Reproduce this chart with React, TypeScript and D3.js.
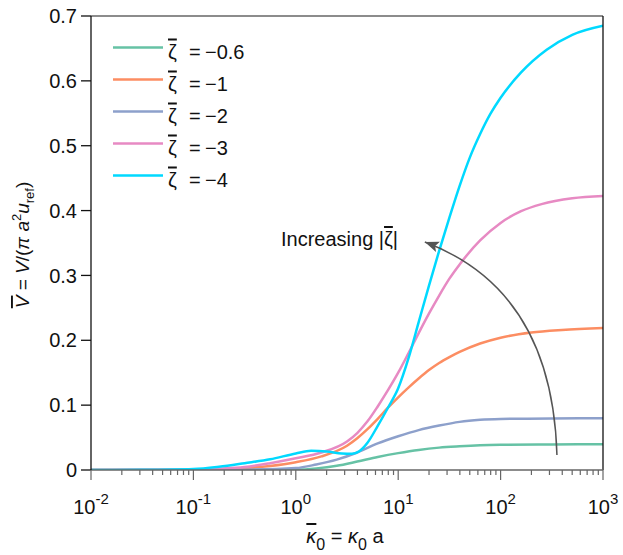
import * as React from "react";
import * as d3 from "d3";

// readings: log10(kappa0 a) and V bar
const zetaLabels = ["\u22120.6", "\u22121", "\u22122", "\u22123", "\u22124"];
const colors = ["#66c2a5", "#fc8d62", "#8da0cb", "#e78ac3", "#00d9ff"];

const expGreen = [-2, -1, -0.5, 0, 0.2, 0.4, 0.6, 0.8, 1.0, 1.2, 1.4, 1.6, 1.8, 2.0, 2.5, 3];
const valGreen = [0, 0, 0.0002, 0.0006, 0.0025, 0.0065, 0.013, 0.02, 0.026, 0.031, 0.0345, 0.0365, 0.038, 0.0388, 0.0395, 0.0396];

const expOrange = [-2, -1, -0.75, -0.5, -0.25, 0, 0.25, 0.5, 0.6, 0.7, 0.8, 0.9, 1.0, 1.1, 1.2, 1.3, 1.4, 1.5, 1.6, 1.8, 2.0, 2.3, 2.6, 3];
const valOrange = [0, 0.0005, 0.0012, 0.0027, 0.0062, 0.012, 0.021, 0.0375, 0.049, 0.063, 0.079, 0.096, 0.112, 0.127, 0.141, 0.154, 0.165, 0.174, 0.182, 0.195, 0.204, 0.212, 0.216, 0.219];

const expBlue = [-2, -1, -0.5, 0, 0.2, 0.4, 0.6, 0.8, 1.0, 1.2, 1.4, 1.6, 1.8, 2.0, 2.5, 3];
const valBlue = [0, 0.0001, 0.0005, 0.003, 0.0085, 0.016, 0.027, 0.041, 0.052, 0.0615, 0.0685, 0.0742, 0.0773, 0.0786, 0.0795, 0.0797];

const expPink = [-2, -1, -0.75, -0.5, -0.25, 0, 0.25, 0.5, 0.6, 0.7, 0.8, 0.9, 1.0, 1.1, 1.2, 1.3, 1.4, 1.5, 1.6, 1.8, 2.0, 2.2, 2.4, 2.7, 3];
const valPink = [0, 0.0008, 0.002, 0.0045, 0.0105, 0.018, 0.027, 0.044, 0.057, 0.075, 0.098, 0.123, 0.15, 0.18, 0.211, 0.241, 0.269, 0.295, 0.317, 0.354, 0.381, 0.399, 0.41, 0.419, 0.4225];

const expCyan = [-2, -1.5, -1, -0.75, -0.5, -0.25, 0, 0.15, 0.3, 0.45, 0.55, 0.62, 0.7, 0.8, 0.9, 1.0, 1.1, 1.2, 1.3, 1.4, 1.5, 1.6, 1.7, 1.8, 1.9, 2.0, 2.2, 2.45, 2.7, 3];
const valCyan = [0, 0.0003, 0.0015, 0.005, 0.0105, 0.0165, 0.0255, 0.0295, 0.0285, 0.0255, 0.025, 0.029, 0.042, 0.068, 0.096, 0.126, 0.172, 0.228, 0.284, 0.338, 0.389, 0.438, 0.482, 0.518, 0.549, 0.574, 0.613, 0.648, 0.671, 0.685];

const seriesExp = [expGreen, expOrange, expBlue, expPink, expCyan];
const seriesVal = [valGreen, valOrange, valBlue, valPink, valCyan];

const yTicks = [0, 0.1, 0.2, 0.3, 0.4, 0.5, 0.6, 0.7];
const xDecades = [-2, -1, 0, 1, 2, 3];

// arrow: start, control, end in data units
const arrowK = [355, 320, 18.2];
const arrowV = [0.023, 0.2775, 0.3515];

export default function App() {
  const W = 623;
  const H = 555;
  const margin = { top: 16, right: 20, bottom: 85, left: 91 };
  const x0 = margin.left;
  const x1 = W - margin.right;
  const y0 = H - margin.bottom;
  const y1 = margin.top;

  const x = d3.scaleLog().domain([0.01, 1000]).range([x0, x1]);
  const y = d3.scaleLinear().domain([0, 0.7]).range([y0, y1]);

  const line = d3
    .line<[number, number]>()
    .x((d) => x(Math.pow(10, d[0])))
    .y((d) => y(d[1]))
    .curve(d3.curveMonotoneX);

  const minor: number[] = [];
  for (let e = -2; e < 3; e++) {
    for (let k = 2; k <= 9; k++) minor.push(k * Math.pow(10, e));
  }

  const font = "'Liberation Sans', Arial, Helvetica, sans-serif";
  const fs = 19;

  // arrow geometry
  const ax = arrowK.map((k) => x(k));
  const ay = arrowV.map((v) => y(v));
  const arrowPath = d3.path();
  arrowPath.moveTo(ax[0], ay[0]);
  arrowPath.quadraticCurveTo(ax[1], ay[1], ax[2], ay[2]);
  const dx = ax[2] - ax[1];
  const dy = ay[2] - ay[1];
  const len = Math.sqrt(dx * dx + dy * dy);
  const ux = dx / len;
  const uy = dy / len;
  const hl = 14;
  const hw = 5.5;
  const bx = ax[2] - ux * hl;
  const by = ay[2] - uy * hl;
  const head = `M${ax[2]},${ay[2]} L${bx - uy * hw},${by + ux * hw} L${bx + ux * 3},${by + uy * 3} L${bx + uy * hw},${by - ux * hw} Z`;

  return (
    <svg
      width={W}
      height={H}
      style={{ position: "absolute", left: 0, top: 0, background: "#fff" }}
      fontFamily={font}
    >
      <defs>
        <clipPath id="plotclip">
          <rect x={x0} y={y1} width={x1 - x0} height={y0 - y1} />
        </clipPath>
      </defs>

      {/* curves */}
      <g clipPath="url(#plotclip)">
        {seriesExp.map((ex, i) => (
          <path
            key={i}
            d={line(ex.map((e, j) => [e, seriesVal[i][j]] as [number, number])) || ""}
            fill="none"
            stroke={colors[i]}
            strokeWidth={2.5}
          />
        ))}
      </g>

      {/* box */}
      <line x1={x0} x2={x1} y1={y1} y2={y1} stroke="#666" strokeWidth={1.3} />
      <line x1={x1} x2={x1} y1={y1} y2={y0} stroke="#111" strokeWidth={1.3} />
      <line x1={x0} x2={x1} y1={y0} y2={y0} stroke="#666" strokeWidth={1.3} />
      <line x1={x0} x2={x0} y1={y1} y2={y0} stroke="#111" strokeWidth={1.3} />

      {/* y axis */}
      {yTicks.map((t) => (
        <g key={t}>
          <line x1={x0 - 10} x2={x0} y1={y(t)} y2={y(t)} stroke="#111" strokeWidth={1.3} />
          <text x={x0 - 14} y={y(t)} dy="0.36em" textAnchor="end" fontSize={fs + 1} fill="#111">
            {t === 0 ? "0" : t.toFixed(1)}
          </text>
        </g>
      ))}

      {/* x axis */}
      {minor.map((m) => (
        <line key={m} x1={x(m)} x2={x(m)} y1={y0} y2={y0 + 5} stroke="#666" strokeWidth={1.2} />
      ))}
      {xDecades.map((e) => (
        <g key={e}>
          <line x1={x(Math.pow(10, e))} x2={x(Math.pow(10, e))} y1={y0} y2={y0 + 10} stroke="#666" strokeWidth={1.2} />
          <text x={x(Math.pow(10, e))} y={514} textAnchor="middle" fontSize={fs + 1} fill="#111">
            10
            <tspan dy={-10} fontSize={15}>
              {String(e)}
            </tspan>
          </text>
        </g>
      ))}

      {/* x label */}
      <text x={(x0 + x1) / 2 - 2} y={543} textAnchor="middle" fontSize={fs + 1} fill="#111">
        <tspan fontStyle="italic" textDecoration="overline">{"\u03ba"}</tspan>
        <tspan dy={7} fontSize={16}>0</tspan>
        <tspan dy={-7}>{" = "}</tspan>
        <tspan fontStyle="italic">{"\u03ba"}</tspan>
        <tspan dy={7} fontSize={16}>0</tspan>
        <tspan dy={-7}>{" a"}</tspan>
      </text>

      {/* y label */}
      <text transform="translate(29,245) rotate(-90)" textAnchor="middle" fontSize={fs} fill="#111">
        <tspan fontStyle="italic" textDecoration="overline">V</tspan>
        <tspan>{" = "}</tspan>
        <tspan fontStyle="italic">V</tspan>
        <tspan>{"/("}</tspan>
        <tspan fontStyle="italic">{"\u03c0 a"}</tspan>
        <tspan dy={-8} fontSize={13}>2</tspan>
        <tspan dy={8} fontStyle="italic">u</tspan>
        <tspan dy={5} fontSize={13}>ref</tspan>
        <tspan dy={-5}>)</tspan>
      </text>

      {/* legend */}
      {zetaLabels.map((lab, i) => {
        const ly = 47.5 + i * 32;
        return (
          <g key={lab}>
            <line x1={113} x2={163} y1={ly} y2={ly} stroke={colors[i]} strokeWidth={2.5} />
            <text y={ly + 11} fontSize={fs + 1} fill="#111">
              <tspan x={168} textDecoration="overline">{"\u03b6"}</tspan>
              <tspan x={189}>{"="}</tspan>
              <tspan x={205}>{lab}</tspan>
            </text>
          </g>
        );
      })}

      {/* annotation */}
      <path d={arrowPath.toString()} fill="none" stroke="#555" strokeWidth={1.5} />
      <path d={head} fill="#555" />
      <text x={281} y={246} fontSize={fs + 1} fill="#111">
        {"Increasing |"}
        <tspan textDecoration="overline">{"\u03b6"}</tspan>
        {"|"}
      </text>
    </svg>
  );
}
